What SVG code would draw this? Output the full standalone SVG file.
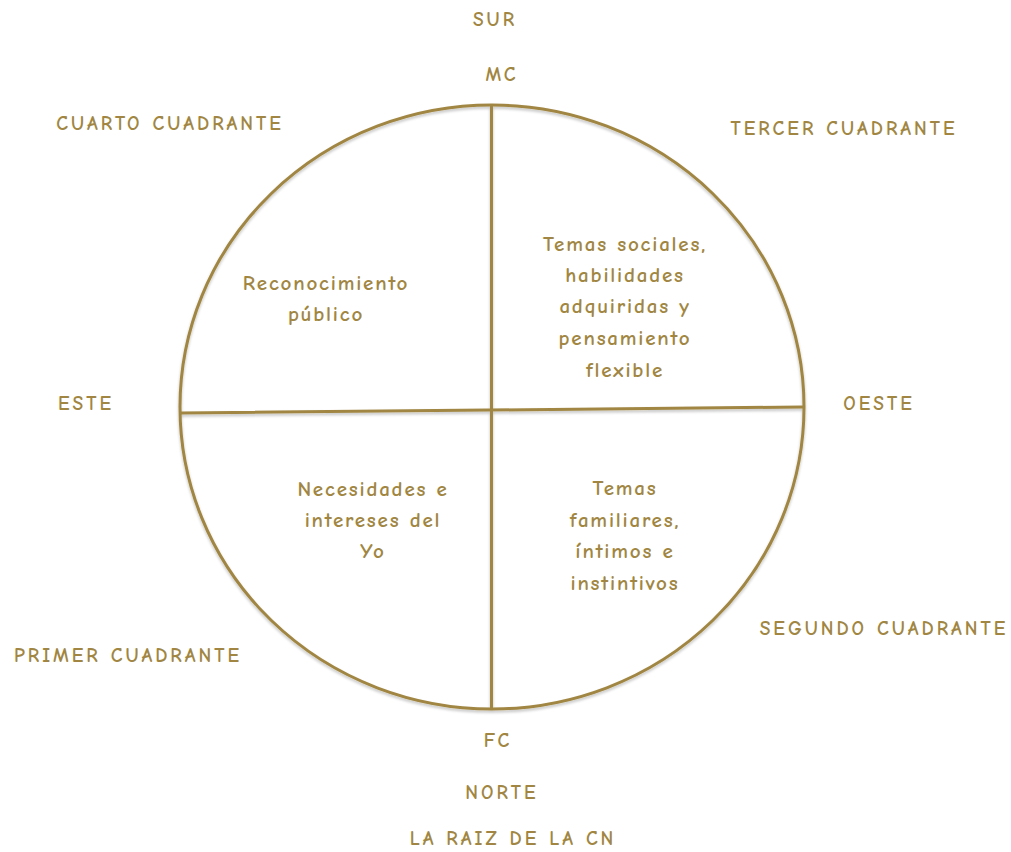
<svg xmlns="http://www.w3.org/2000/svg" width="1011" height="852" viewBox="0 0 1011 852">
  <defs>
    <filter id="soft" x="-5%" y="-5%" width="110%" height="110%">
      <feGaussianBlur in="SourceAlpha" stdDeviation="1.5"/>
      <feOffset dx="0" dy="2" result="b"/>
      <feComponentTransfer><feFuncA type="linear" slope="0.25"/></feComponentTransfer>
      <feMerge><feMergeNode/><feMergeNode in="SourceGraphic"/></feMerge>
    </filter>
  </defs>
  <style>
    .ln { fill: none; stroke: #a08642; stroke-width: 3; stroke-linecap: round; }
    .lbl { font-family: "Comic Neue", "Open Sans", "DejaVu Sans", sans-serif; font-size: 19.5px; font-weight: bold; fill: #a08642; letter-spacing: 3px; text-anchor: middle; }
    .body { font-family: "Comic Neue", "Open Sans", "DejaVu Sans", sans-serif; font-size: 21px; font-weight: bold; fill: #a08642; letter-spacing: 1.8px; text-anchor: middle; }
  </style>
  <rect width="1011" height="852" fill="#ffffff"/>

  <!-- wheel outline and axes -->
  <g id="connectors" filter="url(#soft)">
    <ellipse class="ln" cx="492" cy="407" rx="312" ry="302"/>
    <line class="ln" x1="491.5" y1="106" x2="491.5" y2="708"/>
    <line class="ln" x1="181" y1="413" x2="803" y2="407"/>
  </g>

  <!-- compass and angle labels -->
  <g id="labels">
    <text class="lbl" x="170" y="130">CUARTO CUADRANTE</text>
    <text class="lbl" x="495" y="26">SUR</text>
    <text class="lbl" x="502" y="81">MC</text>
    <text class="lbl" x="844" y="135">TERCER CUADRANTE</text>
    <text class="lbl" x="86" y="410">ESTE</text>
    <text class="lbl" x="879" y="410">OESTE</text>
    <text class="lbl" x="128" y="662">PRIMER CUADRANTE</text>
    <text class="lbl" x="884" y="635">SEGUNDO CUADRANTE</text>
    <text class="lbl" x="498" y="747">FC</text>
    <text class="lbl" x="502" y="799">NORTE</text>
    <text class="lbl" x="513" y="845">LA RAIZ DE LA CN</text>
  </g>

  <g id="q4">
    <text class="body" x="326" y="290">Reconocimiento</text>
    <text class="body" x="326" y="321">público</text>
  </g>
  <g id="q3">
    <text class="body" x="625" y="251">Temas sociales,</text>
    <text class="body" x="625" y="282">habilidades</text>
    <text class="body" x="625" y="313">adquiridas y</text>
    <text class="body" x="625" y="345">pensamiento</text>
    <text class="body" x="625" y="377">flexible</text>
  </g>
  <g id="q1">
    <text class="body" x="373" y="496">Necesidades e</text>
    <text class="body" x="373" y="527">intereses del</text>
    <text class="body" x="373" y="558">Yo</text>
  </g>
  <g id="q2">
    <text class="body" x="625" y="495">Temas</text>
    <text class="body" x="625" y="527">familiares,</text>
    <text class="body" x="625" y="558">íntimos e</text>
    <text class="body" x="625" y="590">instintivos</text>
  </g>
</svg>
